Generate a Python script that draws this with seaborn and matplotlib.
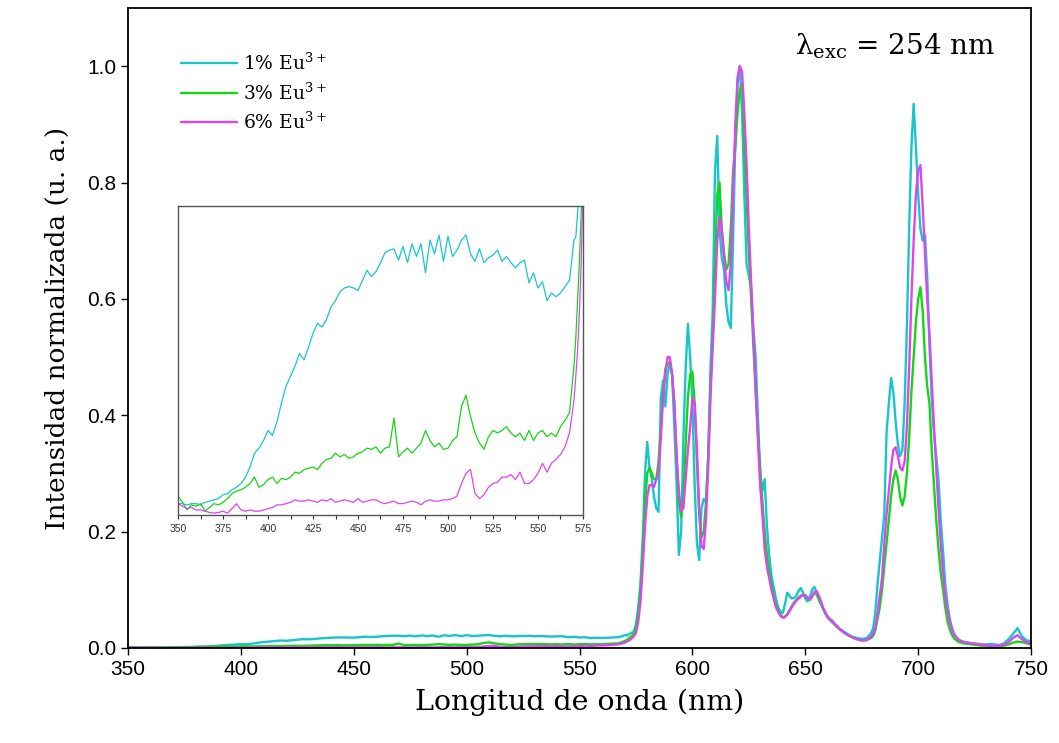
import numpy as np
import pandas as pd
import matplotlib
matplotlib.use("Agg")
import matplotlib.pyplot as plt
import seaborn as sns
from matplotlib.lines import Line2D
from matplotlib.ticker import MultipleLocator, FormatStrFormatter

# ---------------- data ----------------
# low-intensity region (350-570 nm, step 2.5 nm), values in units of 1e-3
wl_low = np.arange(350, 570.01, 2.5)
cyan_low = [
    0.9, 0.9, 0.8, 0.9, 0.9, 0.8, 1.0, 1.1, 1.2, 1.3,
    1.6, 1.7, 2.0, 2.2, 2.5, 3.0, 3.8, 4.9, 5.3, 5.9,
    6.7, 6.3, 7.4, 8.9, 10.2, 11.0, 11.8, 12.8, 12.3, 13.3,
    14.4, 15.2, 14.9, 15.5, 16.5, 17.0, 17.7, 18.0, 18.1, 18.0,
    17.8, 18.6, 19.4, 18.9, 19.3, 20.0, 20.8, 21.0, 21.1, 20.2,
    21.3, 20.0, 21.5, 20.5, 21.5, 19.2, 21.8, 20.7, 22.2, 20.1,
    22.1, 20.5, 21.0, 21.8, 22.2, 20.7, 20.1, 21.1, 20.0, 20.4,
    20.6, 21.0, 20.1, 20.5, 20.0, 19.6, 20.0, 20.2, 18.4, 19.2,
    18.0, 18.5, 17.0, 17.6, 17.3, 17.6, 18.1, 18.6, 21.8]
green_low = [
    1.5, 1.0, 0.4, 0.8, 0.7, 0.9, 0.3, 0.6, 0.9, 0.8,
    1.0, 1.3, 1.7, 1.9, 2.0, 2.2, 2.5, 3.0, 2.2, 2.4,
    2.8, 3.0, 2.5, 2.9, 2.8, 3.0, 3.4, 3.3, 3.6, 3.7,
    3.8, 3.6, 4.1, 4.4, 4.5, 4.9, 4.6, 4.8, 4.5, 4.6,
    4.9, 5.0, 5.3, 5.2, 5.4, 4.9, 5.3, 5.4, 7.7, 4.6,
    5.0, 5.3, 4.9, 5.3, 5.7, 6.7, 5.9, 5.4, 5.7, 5.2,
    5.3, 5.9, 6.2, 8.6, 9.5, 7.8, 6.5, 5.7, 5.2, 6.2,
    6.7, 6.5, 6.7, 7.0, 6.5, 6.2, 6.5, 5.9, 6.7, 5.9,
    6.5, 6.7, 6.2, 6.5, 6.2, 7.0, 7.5, 8.1, 11.8]
magenta_low = [
    0.9, 0.7, 0.5, 0.6, 0.4, 0.4, 0.3, 0.2, 0.15, 0.2,
    0.3, 0.15, 0.5, 0.9, 0.4, 0.3, 0.4, 0.3, 0.3, 0.4,
    0.5, 0.6, 0.8, 0.8, 0.9, 1.0, 1.2, 1.1, 1.1, 1.2,
    1.1, 1.0, 1.2, 1.1, 1.3, 1.0, 1.1, 1.2, 1.1, 1.0,
    1.3, 1.0, 1.1, 1.2, 1.2, 1.0, 0.9, 1.0, 1.1, 0.9,
    0.9, 1.0, 1.1, 1.0, 0.8, 1.1, 1.2, 1.1, 1.1, 1.2,
    1.2, 1.3, 1.5, 2.5, 3.3, 3.6, 1.7, 1.3, 1.6, 2.2,
    2.5, 2.6, 3.0, 3.0, 3.2, 2.8, 3.4, 2.5, 2.5, 2.8,
    3.3, 4.1, 3.4, 4.1, 4.4, 4.8, 5.4, 6.5, 9.1]

# emission region (571-720 nm step 1, 722-750 nm step 2), normalized intensity
wl_high = np.concatenate([np.arange(571, 721), np.arange(722, 751, 2)])
cyan_high = [
    0.022, 0.024, 0.026, 0.028, 0.04, 0.07, 0.11, 0.19, 0.30, 0.354,
    0.31, 0.29, 0.26, 0.24, 0.234, 0.43, 0.46, 0.415, 0.47, 0.49,
    0.47, 0.38, 0.28, 0.16, 0.20, 0.36, 0.48, 0.557, 0.50, 0.42,
    0.28, 0.18, 0.151, 0.24, 0.256, 0.25, 0.33, 0.48, 0.58, 0.82,
    0.88, 0.72, 0.67, 0.65, 0.59, 0.56, 0.55, 0.70, 0.87, 0.97,
    1.0, 0.92, 0.78, 0.66, 0.64, 0.62, 0.55, 0.50, 0.40, 0.30,
    0.27, 0.29, 0.21, 0.16, 0.125, 0.105, 0.085, 0.07, 0.062, 0.06,
    0.075, 0.095, 0.09, 0.085, 0.086, 0.09, 0.098, 0.103, 0.095, 0.085,
    0.08, 0.088, 0.10, 0.105, 0.095, 0.082, 0.075, 0.068, 0.06, 0.054,
    0.05, 0.047, 0.042, 0.038, 0.034, 0.031, 0.028, 0.026, 0.023, 0.021,
    0.019, 0.018, 0.017, 0.016, 0.016, 0.016, 0.017, 0.02, 0.025, 0.033,
    0.06, 0.11, 0.15, 0.19, 0.23, 0.37, 0.42, 0.464, 0.44, 0.39,
    0.35, 0.33, 0.34, 0.42, 0.55, 0.72, 0.86, 0.935, 0.86, 0.78,
    0.72, 0.70, 0.71, 0.64, 0.52, 0.43, 0.37, 0.33, 0.29, 0.22,
    0.168, 0.11, 0.075, 0.05, 0.035, 0.024, 0.018, 0.014, 0.012, 0.011,
    0.009, 0.008, 0.007, 0.006, 0.006, 0.007, 0.006, 0.005, 0.008, 0.015,
    0.024, 0.034, 0.02, 0.013, 0.012]
green_high = [
    0.014, 0.017, 0.02, 0.024, 0.035, 0.06, 0.10, 0.17, 0.25, 0.30,
    0.31, 0.30, 0.29, 0.29, 0.32, 0.38, 0.44, 0.48, 0.49, 0.49,
    0.47, 0.42, 0.33, 0.25, 0.225, 0.26, 0.35, 0.43, 0.47, 0.475,
    0.42, 0.32, 0.23, 0.19, 0.20, 0.25, 0.33, 0.45, 0.53, 0.66,
    0.78, 0.80, 0.72, 0.68, 0.65, 0.66, 0.72, 0.82, 0.86, 0.92,
    0.96, 0.97, 0.86, 0.77, 0.68, 0.60, 0.52, 0.44, 0.37, 0.31,
    0.25, 0.20, 0.16, 0.13, 0.11, 0.09, 0.075, 0.065, 0.057, 0.053,
    0.054, 0.058, 0.065, 0.072, 0.078, 0.083, 0.087, 0.09, 0.091, 0.09,
    0.085, 0.082, 0.088, 0.095, 0.092, 0.085, 0.075, 0.066, 0.058, 0.052,
    0.048, 0.044, 0.04, 0.036, 0.033, 0.03, 0.027, 0.025, 0.022, 0.02,
    0.018, 0.017, 0.015, 0.014, 0.013, 0.013, 0.013, 0.015, 0.017, 0.02,
    0.03, 0.05, 0.07, 0.10, 0.14, 0.18, 0.22, 0.26, 0.29, 0.305,
    0.29, 0.26, 0.245, 0.26, 0.30, 0.36, 0.44, 0.50, 0.56, 0.60,
    0.62, 0.58, 0.50, 0.45, 0.42, 0.34, 0.28, 0.22, 0.17, 0.13,
    0.10, 0.07, 0.045, 0.032, 0.022, 0.016, 0.013, 0.01, 0.009, 0.008,
    0.007, 0.006, 0.005, 0.004, 0.004, 0.003, 0.003, 0.003, 0.004, 0.006,
    0.009, 0.011, 0.01, 0.008, 0.006]
magenta_high = [
    0.011, 0.013, 0.016, 0.02, 0.026, 0.045, 0.08, 0.14, 0.21, 0.26,
    0.28, 0.28, 0.277, 0.29, 0.30, 0.36, 0.43, 0.47, 0.50, 0.50,
    0.47, 0.42, 0.33, 0.27, 0.235, 0.24, 0.29, 0.34, 0.38, 0.43,
    0.42, 0.34, 0.24, 0.175, 0.17, 0.22, 0.31, 0.43, 0.52, 0.60,
    0.70, 0.74, 0.72, 0.67, 0.63, 0.615, 0.66, 0.78, 0.90, 0.98,
    1.0, 0.99, 0.92, 0.83, 0.72, 0.63, 0.54, 0.45, 0.36, 0.28,
    0.23, 0.17, 0.14, 0.12, 0.10, 0.085, 0.07, 0.062, 0.055, 0.052,
    0.053, 0.057, 0.063, 0.07, 0.076, 0.081, 0.085, 0.088, 0.091, 0.091,
    0.087, 0.083, 0.088, 0.096, 0.098, 0.09, 0.08, 0.068, 0.06, 0.052,
    0.048, 0.045, 0.041, 0.037, 0.033, 0.03, 0.027, 0.024, 0.022, 0.02,
    0.018, 0.016, 0.015, 0.014, 0.013, 0.013, 0.014, 0.016, 0.019, 0.024,
    0.035, 0.06, 0.09, 0.12, 0.18, 0.23, 0.27, 0.31, 0.34, 0.345,
    0.33, 0.31, 0.305, 0.32, 0.38, 0.48, 0.60, 0.70, 0.78, 0.82,
    0.83, 0.76, 0.68, 0.60, 0.54, 0.46, 0.38, 0.31, 0.24, 0.18,
    0.13, 0.09, 0.065, 0.045, 0.03, 0.022, 0.018, 0.014, 0.012, 0.01,
    0.009, 0.008, 0.007, 0.006, 0.005, 0.004, 0.004, 0.004, 0.006, 0.01,
    0.017, 0.022, 0.015, 0.01, 0.008]

labels = ["1% Eu$^{3+}$", "3% Eu$^{3+}$", "6% Eu$^{3+}$"]
colors = ["#17C6CC", "#16D416", "#DD45F2"]
x_ticks = [350, 400, 450, 500, 550, 600, 650, 700, 750]
y_ticks = [0.0, 0.2, 0.4, 0.6, 0.8, 1.0]
inset_ticks = [350, 375, 400, 425, 450, 475, 500, 525, 550, 575]

wl = np.concatenate([wl_low, wl_high])
series = {
    labels[0]: np.concatenate([np.array(cyan_low) * 1e-3, cyan_high]),
    labels[1]: np.concatenate([np.array(green_low) * 1e-3, green_high]),
    labels[2]: np.concatenate([np.array(magenta_low) * 1e-3, magenta_high]),
}
df = pd.concat([pd.DataFrame({"wl": wl, "I": v, "s": k}) for k, v in series.items()],
               ignore_index=True)
palette = dict(zip(labels, colors))

# ---------------- plot ----------------
sns.set_theme(style="white")
plt.rcParams['font.family'] = ['Liberation Sans', 'DejaVu Sans']
plt.rcParams['mathtext.fontset'] = 'dejavuserif'
plt.rcParams['text.color'] = 'black'
plt.rcParams['axes.labelcolor'] = 'black'

fig = plt.figure(figsize=(10.59, 7.43), dpi=100)
ax = fig.add_axes([0.1209, 0.1279, 0.8527, 0.8614])
sns.lineplot(data=df, x="wl", y="I", hue="s", hue_order=labels, palette=palette,
             estimator=None, sort=False, linewidth=1.7, ax=ax, legend=False)
ax.set_xlim(350, 750)
ax.set_ylim(0, 1.1)
ax.set_xticks(x_ticks)
ax.set_yticks(y_ticks)
ax.yaxis.set_major_formatter(FormatStrFormatter('%.1f'))
ax.tick_params(direction='out', length=5, width=1, labelsize=15, colors='black',
               bottom=True, left=True)
for sp in ax.spines.values():
    sp.set_color('black')
    sp.set_linewidth(1.3)
ax.set_xlabel("Longitud de onda (nm)", family='DejaVu Serif', fontsize=20.5,
              labelpad=7, color='black')
ax.set_ylabel("Intensidad normalizada (u. a.)", family='DejaVu Serif', fontsize=19,
              labelpad=12, color='black')
ax.text(0.96, 0.94, "λ$_{\\mathrm{exc}}$ = 254 nm", transform=ax.transAxes,
        ha='right', va='center', family='DejaVu Serif', fontsize=20, color='black')

handles = [Line2D([], [], color=c, lw=1.7) for c in colors]
leg = ax.legend(handles, labels, loc='upper left', bbox_to_anchor=(0.05, 0.942),
                frameon=False, prop={'family': 'DejaVu Serif', 'size': 13.5},
                handlelength=3.0, handletextpad=0.35, labelspacing=0.45,
                borderaxespad=0)
for t in leg.get_texts():
    t.set_color('black')

# inset
axin = fig.add_axes([0.1681, 0.3069, 0.3824, 0.4159])
sns.lineplot(data=df[df["wl"] <= 576], x="wl", y="I", hue="s", hue_order=labels,
             palette=palette, estimator=None, sort=False, linewidth=0.9, ax=axin,
             legend=False)
axin.set_xlim(350, 575)
axin.set_ylim(0, 0.0245)
axin.set_xticks(inset_ticks)
axin.xaxis.set_minor_locator(MultipleLocator(12.5))
axin.set_yticks([])
axin.set_xlabel("")
axin.set_ylabel("")
axin.tick_params(axis='x', which='both', direction='out', length=3, width=0.8,
                 labelsize=7.5, colors='#333333', bottom=True)
for sp in axin.spines.values():
    sp.set_color('#555555')
    sp.set_linewidth(1.0)

fig.savefig("out.png", dpi=100)
